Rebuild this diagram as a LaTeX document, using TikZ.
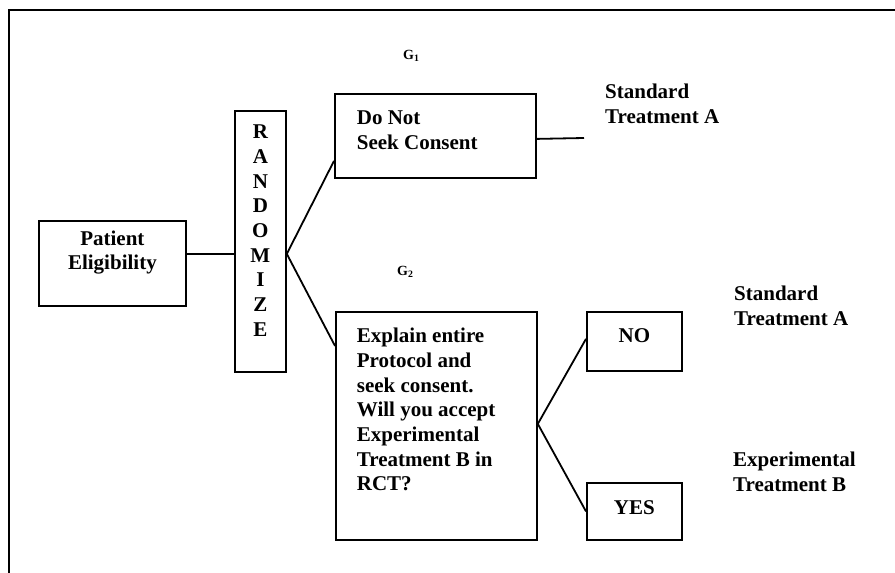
\documentclass[tikz,border=0pt]{standalone}
\usepackage{fontspec}
\setmainfont{Liberation Serif}
\usepackage{tikz}

% text inside a box: height, width, lines
\newcommand{\inbox}[3]{\parbox[t][#1][t]{#2}{#3}}

\tikzset{
  bigfont/.style={font=\fontsize{21}{24.7}\selectfont\bfseries},
  box/.style={draw, line width=1.8pt, anchor=north west, bigfont},
  outcome/.style={anchor=base west, inner sep=0pt, align=left, bigfont},
  grp/.style={anchor=base west, inner sep=0pt, font=\fontsize{14}{16}\selectfont\bfseries},
  link/.style={line width=1.8pt}
}

\begin{document}
\begin{tikzpicture}[x=1pt,y=-1pt]
			\useasboundingbox (0,0) rectangle (895,573);
			% frame
			\draw[line width=2pt] (9,573) -- (9,10) -- (895,10);
			\begin{scope}
				\node[box, inner xsep=0pt, inner ysep=9.7pt] (patient) at (38,220)
					{\inbox{65.6pt}{147pt}{\centering Patient\\Eligibility}};
				\node[box, inner xsep=0pt, inner ysep=14.1pt] (rand) at (234,110)
					{\inbox{232.8pt}{51pt}{\centering R\\A\\N\\D\\O\\M\\I\\Z\\E}};
				\node[box, inner xsep=22pt, inner ysep=17.2pt] (donot) at (334,93)
					{\inbox{49.6pt}{157pt}{\raggedright Do Not\\Seek Consent}};
				\node[box, inner xsep=21pt, inner ysep=16.2pt] (explain) at (335,311)
					{\inbox{195.6pt}{159pt}{\raggedright Explain entire\\Protocol and\\seek consent.\\Will you accept\\Experimental\\Treatment B in\\RCT?}};
				\node[box, inner xsep=0pt, inner ysep=17.1pt] (no) at (586,311)
					{\inbox{24.8pt}{95pt}{\centering NO}};
				\node[box, inner xsep=0pt, inner ysep=17.8pt] (yes) at (586,482)
					{\inbox{21.4pt}{95pt}{\centering YES}};
			\end{scope}
			% labels
			\node[grp] (g1) at (403,59) {G\textsubscript{1}};
			\node[grp] (g2) at (397,275) {G\textsubscript{2}};
			\node[outcome] (stda1) at (605,123.5) {Standard\\Treatment A};
			\node[outcome] (stda2) at (734,325) {Standard\\Treatment A};
			\node[outcome] (expb) at (733,491.5) {Experimental\\Treatment B};
			% connectors
			\coordinate (fork) at ([yshift=-12.5pt]rand.east);
			\coordinate (split) at ([yshift=2pt]explain.east);
			\coordinate (tail) at (584,138);
			\draw[link] ([yshift=9.5pt]patient.east) -- ([yshift=9.5pt]patient.east -| rand.west);
			\draw[link] ([yshift=-25pt]donot.west) -- (fork) -- ([yshift=80pt]explain.west);
			\draw[link] ([yshift=2.5pt]no.west) -- (split) -- (yes.west);
			\draw[link] ([yshift=-3pt]donot.east) -- (tail);
		\end{tikzpicture}
\end{document}
